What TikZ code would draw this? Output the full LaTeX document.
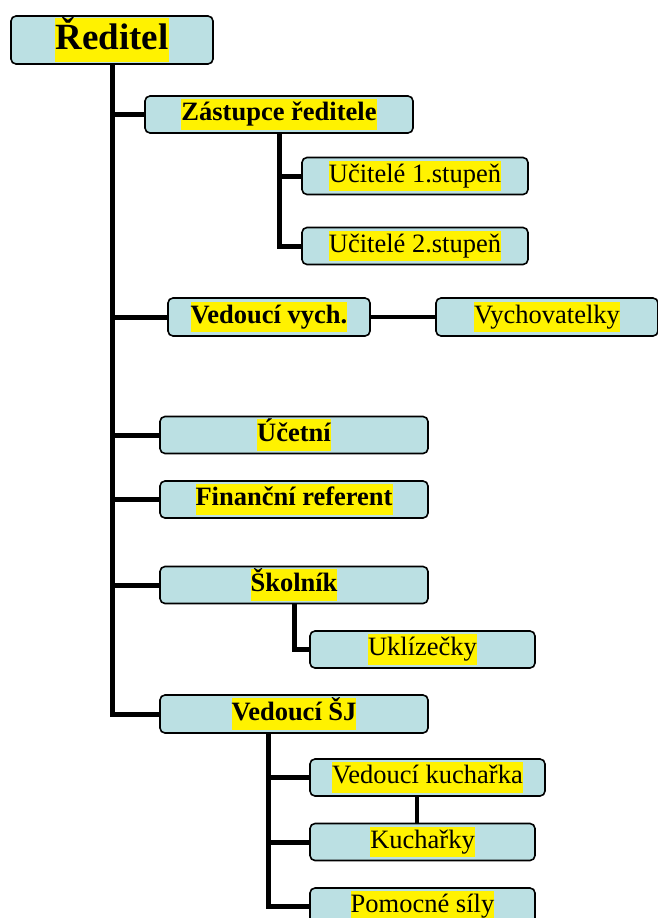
\documentclass[tikz,border=0pt]{standalone}
\usepackage{fontspec}
\setmainfont{Liberation Serif}
\usepackage{tikz}

\definecolor{boxblue}{RGB}{187,224,227}
\newcommand{\hl}[1]{{\setlength{\fboxsep}{0pt}\colorbox{yellow}{\strut #1}}}

\begin{document}
\begin{tikzpicture}[x=1pt,y=-1pt,
    box/.style={draw, line width=1.6pt, rounded corners=5pt, fill=boxblue, inner sep=0pt, minimum height=37pt, font=\fontsize{26.5}{30.5}\selectfont},
    boss/.style={box, font=\fontsize{26.5}{30.5}\selectfont\bfseries},
    link/.style={line width=5pt},
    thin link/.style={line width=4pt}]
    \useasboundingbox (0,0) rectangle (657,918);

    % Boxes
    \node [box, minimum width=202pt, minimum height=48pt, font=\fontsize{37}{42}\selectfont\bfseries] (red) at (112,40) {\hl{Ředitel}};
    \node [boss, minimum width=268pt] (zas) at (279,114.5) {\hl{Zástupce ředitele}};
    \node [box, minimum width=226pt] (uc1) at (415,176) {\hl{Učitelé 1.stupeň}};
    \node [box, minimum width=226pt] (uc2) at (415,246) {\hl{Učitelé 2.stupeň}};
    \node [boss, minimum width=202pt, minimum height=38pt] (vv) at (269,317) {\hl{Vedoucí vych.}};
    \node [box, minimum width=222pt, minimum height=38pt] (vych) at (547,317) {\hl{Vychovatelky}};
    \node [boss, minimum width=268pt] (uce) at (294,435) {\hl{Účetní}};
    \node [boss, minimum width=268pt] (fin) at (294,499.5) {\hl{Finanční referent}};
    \node [boss, minimum width=268pt] (sko) at (294,585) {\hl{Školník}};
    \node [box, minimum width=225pt] (ukl) at (422.5,649.5) {\hl{Uklízečky}};
    \node [boss, minimum width=268pt, minimum height=38pt] (vsj) at (294,714) {\hl{Vedoucí ŠJ}};
    \node [box, minimum width=235pt] (vk) at (427.5,777.5) {\hl{Vedoucí kuchařka}};
    \node [box, minimum width=225pt] (kuch) at (422.5,842) {\hl{Kuchařky}};
    \node [box, minimum width=225pt] (pom) at (422.5,906.5) {\hl{Pomocné síly}};

    % Main trunk
    \draw [link] (red.south) -- (red.south |- vsj.west) -- (vsj.west);
    \draw [link] (red.south |- zas.west) -- (zas.west);
    \draw [link] (red.south |- vv.west) -- (vv.west);
    \draw [link] (red.south |- uce.west) -- (uce.west);
    \draw [link] (red.south |- fin.west) -- (fin.west);
    \draw [link] (red.south |- sko.west) -- (sko.west);

    % Zastupce
    \draw [link] (zas.south) -- (zas.south |- uc2.west) -- (uc2.west);
    \draw [link] (zas.south |- uc1.west) -- (uc1.west);

    % Vedouci vych.
    \draw [thin link] (vv.east) -- (vych.west);

    % Skolnik
    \draw [link] (sko.south) -- (sko.south |- ukl.west) -- (ukl.west);

    % Vedouci SJ
    \coordinate (sj) at ([xshift=-26pt]vsj.south);
    \draw [link] (sj) -- (sj |- pom.west) -- (pom.west);
    \draw [link] (sj |- vk.west) -- (vk.west);
    \draw [link] (sj |- kuch.west) -- (kuch.west);
    \draw [thin link] ([xshift=-6pt]kuch.north) -- ([xshift=-6pt]kuch.north |- vk.south);

\end{tikzpicture}
\end{document}
